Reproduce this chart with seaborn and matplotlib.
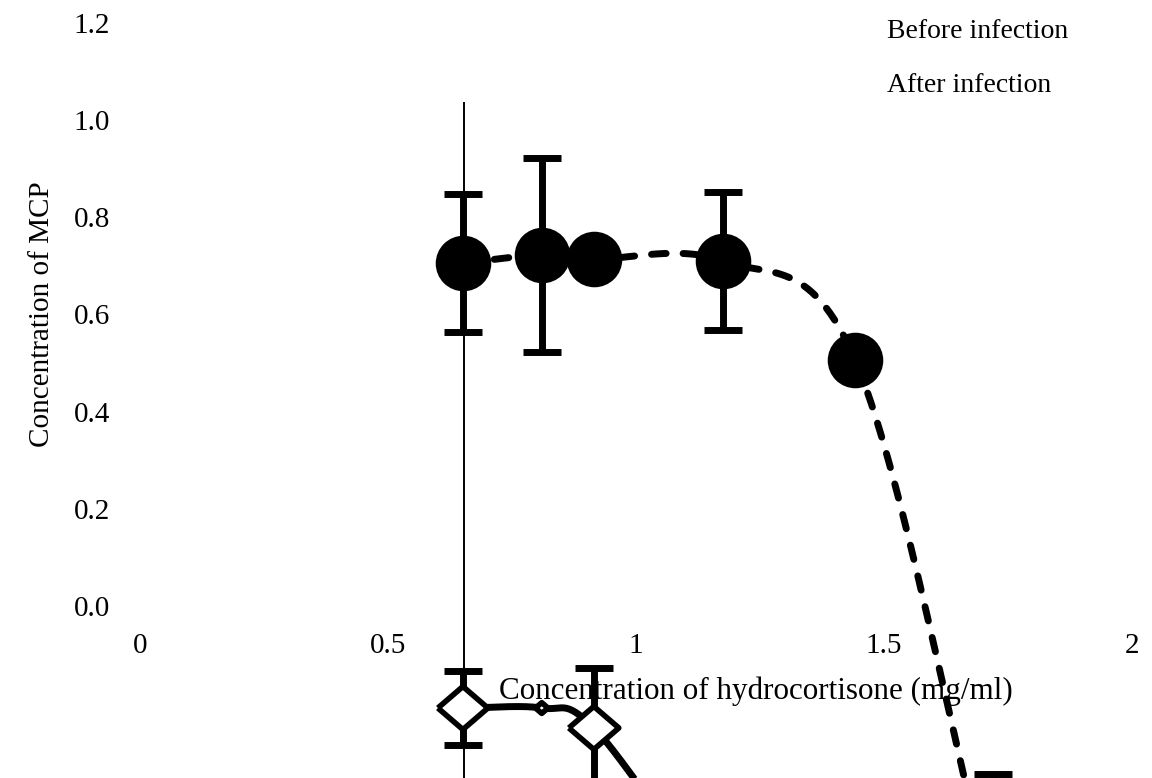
import numpy as np
import pandas as pd
import matplotlib
matplotlib.use("Agg")
import matplotlib.pyplot as plt
import seaborn as sns
from matplotlib.lines import Line2D

# ---------------- data ----------------
conc = [0.651, 0.810, 0.915, 1.175, 1.442, 1.720]          # hydrocortisone (mg/ml)
before = [0.706, 0.723, 0.714, 0.710, 0.506, -0.600]       # MCP before infection
before_err = [0.143, 0.200, 0.0, 0.142, 0.0, 0.255]
after = [-0.210, -0.210, -0.251, -0.580, -0.720, -0.780]    # MCP after infection
after_err = [0.076, 0.0, 0.124, 0.0, 0.0, 0.0]
after_marker_big = [True, False, True, True, True, True]

series_names = ["Before infection", "After infection"]
x_ticks = [0, 0.5, 1, 1.5, 2]
x_tick_labels = ["0", "0.5", "1", "1.5", "2"]
y_ticks = [0.0, 0.2, 0.4, 0.6, 0.8, 1.0, 1.2]
y_tick_labels = ["0.0", "0.2", "0.4", "0.6", "0.8", "1.0", "1.2"]
x_label = "Concentration of hydrocortisone (mg/ml)"
y_label = "Concentration of MCP"

# ---------------- style ----------------
sns.set_theme(style="white")
plt.rcParams["font.family"] = ["Liberation Serif", "DejaVu Serif"]

W, H = 1152, 778
fig = plt.figure(figsize=(W / 100, H / 100), dpi=100)
fig.patch.set_facecolor("white")

# main axes: x 0..2 -> px 140..1132, y 0..1.2 -> px 606..23
ax = fig.add_axes([140 / W, (H - 606) / H, 992 / W, (606 - 23) / H])
ax.set_zorder(1)
ax.patch.set_visible(False)

# stray vertical axis line seen in the reference
ax2 = fig.add_axes([463.5 / W, 0, 0.5 / W, (H - 103) / H])
ax2.set_zorder(0)
ax2.patch.set_visible(False)
ax2.set_ylim(-1.25, 1.0)
ax2.set_yticks([0, 1], ["", ""])
ax2.set_xticks([])
for s in ["top", "right", "bottom"]:
    ax2.spines[s].set_visible(False)
ax2.spines["left"].set_linewidth(1.4)
ax2.spines["left"].set_color("black")
ax2.tick_params(axis="y", direction="out", length=19.4, width=1.4, color="black")


def smooth(xs, ys, n=60):
    """Excel-like smoothed line (Catmull-Rom as cubic Bezier)."""
    P = np.column_stack([xs, ys]).astype(float)
    ext = np.vstack([2 * P[0] - P[1], P, 2 * P[-1] - P[-2]])
    out = []
    t = np.linspace(0, 1, n)[:, None]
    for i in range(1, len(ext) - 2):
        p0, p1, p2, p3 = ext[i - 1], ext[i], ext[i + 1], ext[i + 2]
        b1 = p1 + (p2 - p0) / 6
        b2 = p2 - (p3 - p1) / 6
        seg = (1 - t) ** 3 * p1 + 3 * (1 - t) ** 2 * t * b1 + 3 * (1 - t) * t ** 2 * b2 + t ** 3 * p2
        out.append(seg if i == 1 else seg[1:])
    return np.vstack(out)


sb = smooth(conc, before)
sa = smooth(conc, after)
df_b = pd.DataFrame({"x": sb[:, 0], "y": sb[:, 1]})
df_a = pd.DataFrame({"x": sa[:, 0], "y": sa[:, 1]})

# error bars
bx = [c for c, e in zip(conc, before_err) if e > 0]
by = [v for v, e in zip(before, before_err) if e > 0]
be = [e for e in before_err if e > 0]
axx = [c for c, e in zip(conc, after_err) if e > 0]
ay = [v for v, e in zip(after, after_err) if e > 0]
ae = [e for e in after_err if e > 0]
for X, Y, E in [(bx, by, be), (axx, ay, ae)]:
    ax.errorbar(X, Y, yerr=E, fmt="none", ecolor="black", elinewidth=5,
                capsize=13.5, capthick=5, zorder=2)

# lines
sns.lineplot(data=df_b, x="x", y="y", ax=ax, color="black", linewidth=5,
             sort=False, estimator=None, zorder=2.5, dash_capstyle="round")
ax.lines[-1].set_linestyle((0, (2.1, 2.45)))
sns.lineplot(data=df_a, x="x", y="y", ax=ax, color="black", linewidth=5,
             sort=False, estimator=None, zorder=2.5, solid_capstyle="butt")

# markers
sns.scatterplot(x=conc, y=before, ax=ax, marker="o", s=40 ** 2, color="black",
                linewidth=0, zorder=4)
diamond = [(-1, 0), (0, 0.86), (1, 0), (0, -0.86), (-1, 0)]
sizes = [36 ** 2 if b else 9 ** 2 for b in after_marker_big]
sns.scatterplot(x=conc, y=after, ax=ax, marker=diamond, s=sizes, facecolor="white",
                edgecolor="black", linewidth=4, zorder=4)

for art in ax.get_children():
    try:
        art.set_clip_on(False)
    except Exception:
        pass

# axes decoration
ax.set_xlim(0, 2)
ax.set_ylim(0, 1.2)
ax.set_xticks(x_ticks, x_tick_labels)
ax.set_yticks(y_ticks, y_tick_labels)
for s in ax.spines.values():
    s.set_visible(False)
ax.tick_params(axis="y", length=0, pad=21.6, labelsize=21, labelcolor="black")
ax.tick_params(axis="x", length=0, pad=19.5, labelsize=21, labelcolor="black")
ax.set_xlabel(x_label, fontsize=22.4, color="black")
ax.set_ylabel(y_label, fontsize=21, color="black")
ax.xaxis.set_label_coords((756 - 140) / 992, (606 - 676) / 583)
ax.yaxis.set_label_coords(-0.086, 0.5)

handles = [Line2D([], [], linestyle="none") for _ in series_names]
leg = ax.legend(handles, series_names, loc="upper left",
                bbox_to_anchor=(887 / W, 1 - 19 / H), bbox_transform=fig.transFigure,
                frameon=False, handlelength=0, handletextpad=0, borderpad=0,
                borderaxespad=0, labelspacing=1.0, fontsize=20)
for txt in leg.get_texts():
    txt.set_color("black")

fig.savefig("out.png", dpi=100, facecolor="white")
